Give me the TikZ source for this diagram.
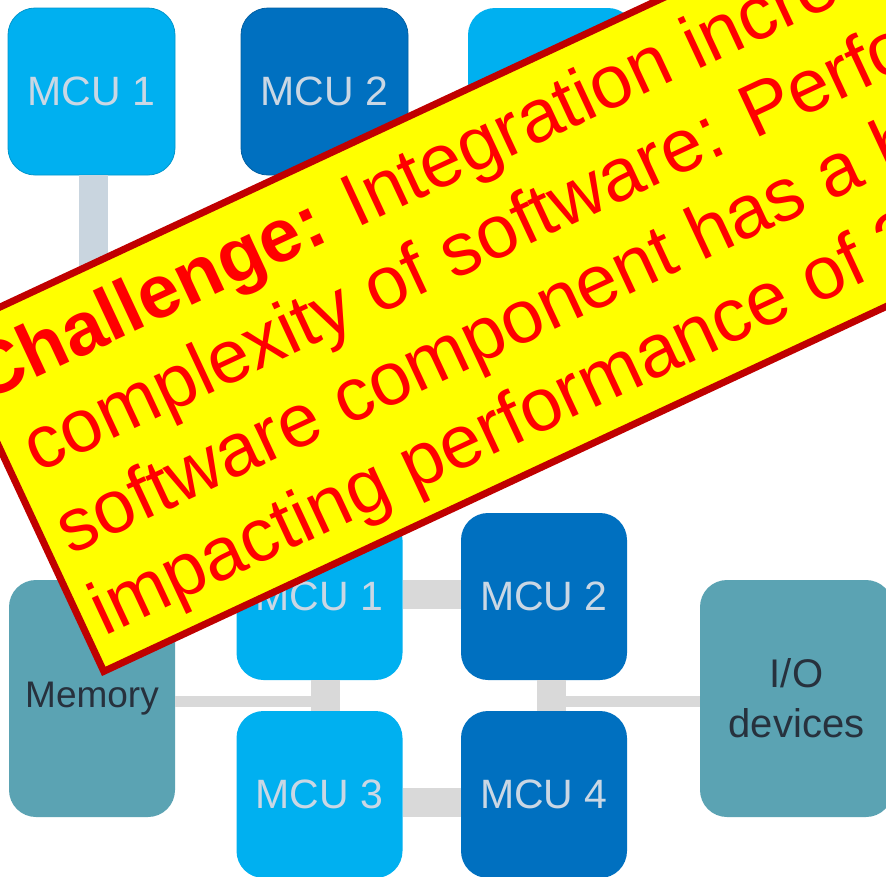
\documentclass[tikz,border=0pt]{standalone}
\usepackage{fontspec}
\setmainfont{Liberation Sans}
\usetikzlibrary{calc}

\definecolor{mcuLight}{HTML}{00B0F0}
\definecolor{mcuDark}{HTML}{0070C0}
\definecolor{memTeal}{HTML}{5BA3B3}
\definecolor{busGrey}{HTML}{D9D9D9}
\definecolor{linkGrey}{HTML}{C9D5DF}
\definecolor{labelGrey}{HTML}{CAD7E4}
\definecolor{darkText}{HTML}{27313D}
\definecolor{noteYellow}{HTML}{FFFF00}
\definecolor{noteBorder}{HTML}{C00000}
\definecolor{noteRed}{HTML}{FF0000}

\begin{document}
\begin{tikzpicture}[x=1pt,y=-1pt,
  unit/.style={rounded corners=27pt, minimum width=167pt, minimum height=167pt,
    inner sep=0pt, outer sep=0pt, text=labelGrey, font=\fontsize{41}{49}\selectfont},
  lightunit/.style={unit, fill=mcuLight},
  darkunit/.style={unit, fill=mcuDark},
  periph/.style={rounded corners=27pt, fill=memTeal, minimum height=237pt,
    inner sep=0pt, outer sep=0pt, text=darkText, align=center,
    font=\fontsize{37}{50}\selectfont},
  bus/.style={draw=busGrey, line width=29pt},
  thinbus/.style={draw=busGrey, line width=11pt},
  uplink/.style={draw=linkGrey, line width=29pt},
  notebox/.style={draw=noteBorder, fill=noteYellow, line width=7pt, line join=miter},
  noteline/.style={transform shape, anchor=base west, inner sep=0pt, text=noteRed,
    font=\fontsize{75}{88}\selectfont}
]
\useasboundingbox (0,0) rectangle (886,876);
\fill[white] (0,0) rectangle (886,876);
\clip (0,0) rectangle (886,876);

% upper row: separate controllers
\node[lightunit, draw=mcuLight!85!black, line width=0.8pt] (t1) at (91.5,91.5) {MCU 1};
\node[darkunit, draw=mcuDark!85!black, line width=0.8pt] (t2) at (324.5,91.5) {MCU 2};
\node[lightunit] (t3) at (551.5,91.5) {MCU 3};
\coordinate (t1end) at (93.5,430);
\draw[uplink] ([xshift=2pt]t1.south) -- (t1end);

% lower cluster: four controllers sharing memory and I/O
\node[lightunit, minimum width=166pt] (b1) at (319.5,596.5) {MCU 1};
\node[darkunit, minimum width=166pt] (b2) at (544,596.5) {MCU 2};
\node[lightunit, minimum width=166pt] (b3) at (319.5,794.5) {MCU 3};
\node[darkunit, minimum width=166pt] (b4) at (544,794.5) {MCU 4};
\node[periph, minimum width=166pt] (mem) at (92,698.5) {Memory};
\node[periph, minimum width=193pt, font=\fontsize{40}{50}\selectfont] (io) at (796.5,698.5) {I/O\\devices};

\draw[bus] ([yshift=2pt]b1.east) -- ([yshift=2pt]b2.west);
\draw[bus] ([yshift=-8pt]b3.east) -- ([yshift=-8pt]b4.west);
\draw[bus] ([xshift=6pt]b1.south) coordinate (j1) -- ([xshift=6pt]b3.north);
\draw[bus] ([xshift=7.5pt]b2.south) coordinate (j2) -- ([xshift=7.5pt]b4.north);
\draw[thinbus] ([yshift=-3pt]mem.east) -- ([yshift=-3pt]mem.east -| j1);
\draw[thinbus] ([yshift=-3pt]io.west) -- ([yshift=-3pt]io.west -| j2);

% rotated call-out
\begin{scope}[shift={(-54.3,332.4)}, rotate=25]
  \path[notebox] (0,0) rectangle (1400,374);
  \node[noteline] (n1) at (4.5,79.5) {\textbf{Challenge:} Integration increases};
  \node[noteline] (n2) at (23.5,167.2) {complexity of software: Performance};
  \node[noteline] (n3) at (18.5,254.8) {software component has a big};
  \node[noteline] (n4) at (15,342.5) {impacting performance of 2};
\end{scope}
\end{tikzpicture}
\end{document}
